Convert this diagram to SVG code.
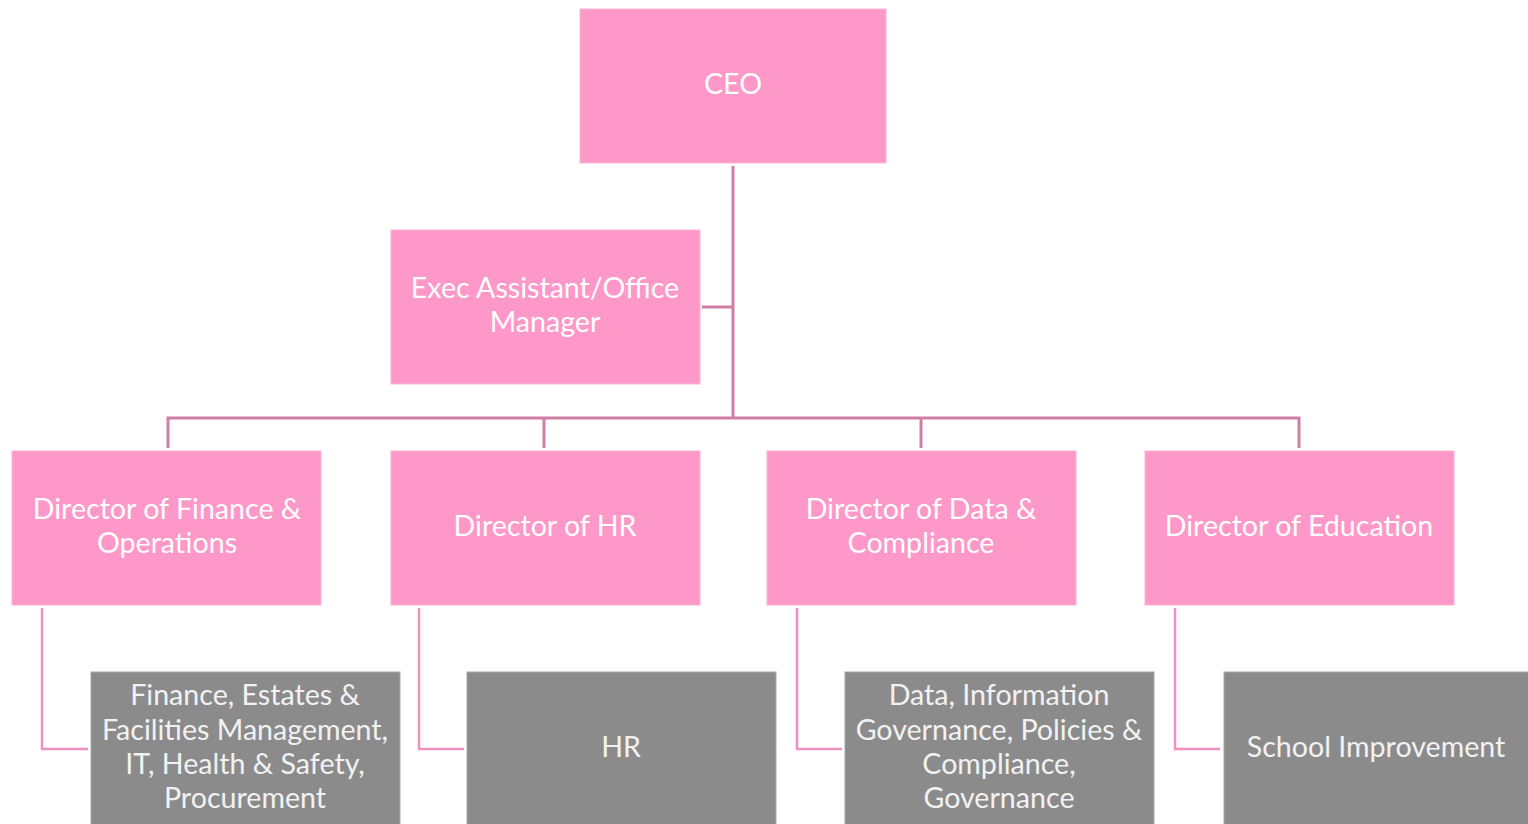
<svg xmlns="http://www.w3.org/2000/svg" width="1528" height="824" viewBox="0 0 1528 824">
  <style>
    .pink { fill: #fd98c8; stroke: #fbb6d6; stroke-width: 1; }
    .grey { fill: #8b8b8b; stroke: #a8a8a8; stroke-width: 1; }
    .lbl { font-family: Lato, "Open Sans", "Liberation Sans", sans-serif; font-size: 28.6px; text-anchor: middle; dominant-baseline: central; }
    .lbl-p { fill: #ffffff; }
    .lbl-g { fill: #f2f2f2; }
    .trunk { fill: none; stroke: #cf7ea6; stroke-width: 3; }
    .branch { fill: none; stroke: #f08fc0; stroke-width: 2.5; }
  </style>
  <rect width="1528" height="824" fill="#ffffff"/>

  <g id="connectors">
    <path class="trunk" d="M733 166 V418 M702 307 H733 M168 448 V418 H1299 V448 M544 418 V448 M921 418 V448"/>
    <path class="branch" d="M42 608 V749 H88"/>
    <path class="branch" d="M419 608 V749 H464"/>
    <path class="branch" d="M797 608 V749 H842"/>
    <path class="branch" d="M1175 608 V749 H1220"/>
  </g>

  <g id="ceo">
    <rect class="pink" x="580" y="9" width="306" height="154"/>
    <text class="lbl lbl-p" x="733" y="83">CEO</text>
  </g>

  <g id="exec-assistant">
    <rect class="pink" x="391" y="230" width="309" height="154"/>
    <text class="lbl lbl-p" x="545" y="287">Exec Assistant/Office</text>
    <text class="lbl lbl-p" x="545" y="321">Manager</text>
  </g>

  <g id="dir-finance">
    <rect class="pink" x="12" y="451" width="309" height="154"/>
    <text class="lbl lbl-p" x="167" y="508">Director of Finance &amp;</text>
    <text class="lbl lbl-p" x="167" y="542">Operations</text>
  </g>

  <g id="dir-hr">
    <rect class="pink" x="391" y="451" width="309" height="154"/>
    <text class="lbl lbl-p" x="545" y="525">Director of HR</text>
  </g>

  <g id="dir-data">
    <rect class="pink" x="767" y="451" width="309" height="154"/>
    <text class="lbl lbl-p" x="921" y="508">Director of Data &amp;</text>
    <text class="lbl lbl-p" x="921" y="542">Compliance</text>
  </g>

  <g id="dir-education">
    <rect class="pink" x="1145" y="451" width="309" height="154"/>
    <text class="lbl lbl-p" x="1299" y="525">Director of Education</text>
  </g>

  <g id="team-finance">
    <rect class="grey" x="91" y="672" width="309" height="160"/>
    <text class="lbl lbl-g" x="245" y="694">Finance, Estates &amp;</text>
    <text class="lbl lbl-g" x="245" y="729">Facilities Management,</text>
    <text class="lbl lbl-g" x="245" y="763">IT, Health &amp; Safety,</text>
    <text class="lbl lbl-g" x="245" y="797">Procurement</text>
  </g>

  <g id="team-hr">
    <rect class="grey" x="467" y="672" width="309" height="160"/>
    <text class="lbl lbl-g" x="621" y="746">HR</text>
  </g>

  <g id="team-data">
    <rect class="grey" x="845" y="672" width="309" height="160"/>
    <text class="lbl lbl-g" x="999" y="694">Data, Information</text>
    <text class="lbl lbl-g" x="999" y="729">Governance, Policies &amp;</text>
    <text class="lbl lbl-g" x="999" y="763">Compliance,</text>
    <text class="lbl lbl-g" x="999" y="797">Governance</text>
  </g>

  <g id="team-school">
    <rect class="grey" x="1224" y="672" width="320" height="160"/>
    <text class="lbl lbl-g" x="1376" y="746">School Improvement</text>
  </g>
</svg>
